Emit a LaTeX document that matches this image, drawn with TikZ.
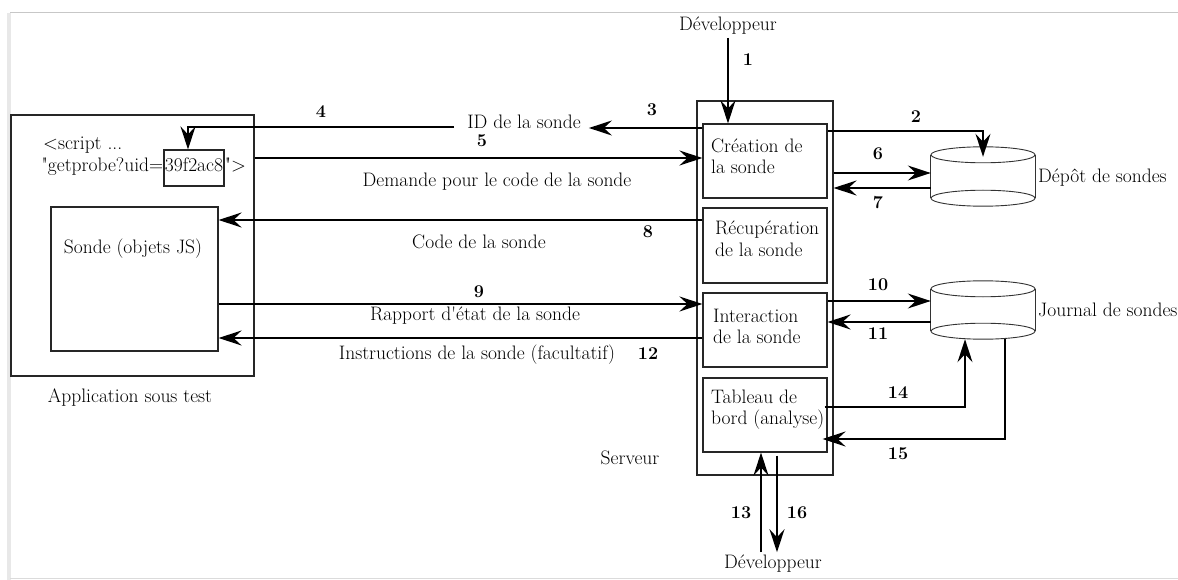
\documentclass[tikz,border=0pt]{standalone}
\usetikzlibrary{arrows.meta}
\begin{document}
\begin{tikzpicture}[x=1pt,y=-1pt,
  every node/.style={inner sep=0pt, font=\fontsize{19.5}{23}\selectfont},
  txt/.style={anchor=base},
  txtl/.style={anchor=base west},
  num/.style={anchor=base, font=\fontsize{18}{22}\selectfont\bfseries},
  box/.style={draw=black!85, line width=1.1pt, rectangle},
  cyl/.style={draw=black!80, line width=0.9pt},
  arr/.style={line width=1.8pt, -{Stealth[length=23pt,width=15pt,inset=8pt]}}
]
% canvas and page frame
\useasboundingbox (0,0) rectangle (1178,580);
\fill[white] (0,0) rectangle (1178,580);
\fill[black!9] (7,13) rectangle (11,580);
\draw[black!22, line width=1pt] (10,13) -- (1178,13);
\draw[black!14, line width=1pt] (10,578) -- (1178,578);

% application under test
\node[box, minimum width=243pt, minimum height=261pt] (app) at (132.5,245.5) {};
\node[box, minimum width=167pt, minimum height=144pt] (sonde) at (134.5,279) {};
\node[txt] (sondetxt) at (133,254) {Sonde (objets JS)};
\node[txt] (apptxt) at (130,402) {Application sous test};
\node[txtl] (script) at (43,150) {\textless script ...};
\node[box, anchor=base, inner xsep=1pt, text height=22pt, text depth=14pt] (uid) at (194,172) {39f2ac8};
\node[anchor=base east] (uidl) at (uid.base west) {\textquotedbl getprobe?uid=};
\node[anchor=base west] (uidr) at (uid.base east) {\textquotedbl\textgreater};

% server
\node[box, minimum width=136pt, minimum height=374pt] (srv) at (765,288) {};
\node[box, minimum width=124pt, minimum height=74pt] (crea) at (765,161) {};
\node[box, minimum width=124pt, minimum height=75pt] (recup) at (765,245.5) {};
\node[box, minimum width=124pt, minimum height=74pt] (inter) at (765,330) {};
\node[box, minimum width=124pt, minimum height=74pt] (tab) at (765,415) {};
\node[txtl] at (711,153) {Création de};
\node[txtl] at (711,174) {la sonde};
\node[txtl] at (715,235) {Récupération};
\node[txtl] at (715,256) {de la sonde};
\node[txtl] at (713,322) {Interaction};
\node[txtl] at (713,343) {de la sonde};
\node[txtl] at (711,403) {Tableau de};
\node[txtl] at (711,424) {bord (analyse)};
\node[txt] (srvtxt) at (630,464) {Serveur};

% stores
\node[minimum width=104pt, minimum height=59pt] (depot) at (983,176.5) {};
\node[minimum width=104pt, minimum height=58pt] (journal) at (983,310) {};
\foreach \c in {depot,journal} {
  \draw[cyl] ([yshift=-8pt]\c.north) ellipse [x radius=52pt, y radius=8pt];
  \draw[cyl] ([yshift=8pt]\c.south) ellipse [x radius=52pt, y radius=8pt];
  \draw[cyl] ([yshift=-8pt]\c.north west) -- ([yshift=8pt]\c.south west);
  \draw[cyl] ([yshift=-8pt]\c.north east) -- ([yshift=8pt]\c.south east);
}
\node[txtl] at (1038,183) {Dépôt de sondes};
\node[txtl] at (1038,316) {Journal de sondes};

% developers
\node[txt] (dev1) at (728,31) {Développeur};
\node[txt] (dev2) at (773,568) {Développeur};

% message labels
\node[txt] (idtxt) at (524,129) {ID de la sonde};
\node[txt] at (497,187) {Demande pour le code de la sonde};
\node[txt] at (479,248) {Code de la sonde};
\node[txt] at (475,320) {Rapport d\textquotesingle état de la sonde};
\node[txt] at (477,359) {Instructions de la sonde (facultatif)};

% connectors
\draw[arr] ([yshift=-3pt]dev1.south) -- (dev1.south |- crea.north);
\draw[arr] (crea.east |- 0,131) -| ([yshift=-10pt]depot.north);
\draw[arr] (crea.west |- 0,128) -- ([xshift=8pt]idtxt.east |- 0,128);
\draw[arr] ([xshift=-13pt]idtxt.west |- 0,127) -| ([xshift=-6pt]uid.north);
\draw[arr] (app.east |- 0,158) -- (crea.west |- 0,158);
\draw[arr] (srv.east |- 0,173) -- (depot.west |- 0,173);
\draw[arr] (depot.west |- 0,188) -- (srv.east |- 0,188);
\draw[arr] (recup.west |- 0,220) -- (sonde.east |- 0,220);
\draw[arr] (sonde.east |- 0,304) -- (inter.west |- 0,304);
\draw[arr] (inter.east |- 0,301) -- (journal.west |- 0,301);
\draw[arr] (journal.west |- 0,322) -- (inter.east |- 0,322);
\draw[arr] (inter.west |- 0,338) -- (sonde.east |- 0,338);
\draw[arr] ([xshift=-3pt]tab.east |- 0,407) -| ([xshift=-18pt]journal.south);
\draw[arr] ([xshift=22pt]journal.south) |- ([xshift=-5pt]tab.east |- 0,439);
\draw[arr] ([xshift=-12pt,yshift=2pt]dev2.north) -- ([xshift=-4pt]tab.south);
\draw[arr] ([xshift=12pt,yshift=-3pt]tab.south) -- ([xshift=4pt,yshift=2pt]dev2.north);

% step numbers
\node[num] at (748,66) {1};
\node[num] at (916,123) {2};
\node[num] at (652,116) {3};
\node[num] at (321,118) {4};
\node[num] at (482,147) {5};
\node[num] at (878,160) {6};
\node[num] at (878,209) {7};
\node[num] at (648,237) {8};
\node[num] at (479,297) {9};
\node[num] at (878,290) {10};
\node[num] at (878,339) {11};
\node[num] at (648,359) {12};
\node[num] at (741,518) {13};
\node[num] at (898,398) {14};
\node[num] at (898,459) {15};
\node[num] at (797,518) {16};
\end{tikzpicture}
\end{document}
